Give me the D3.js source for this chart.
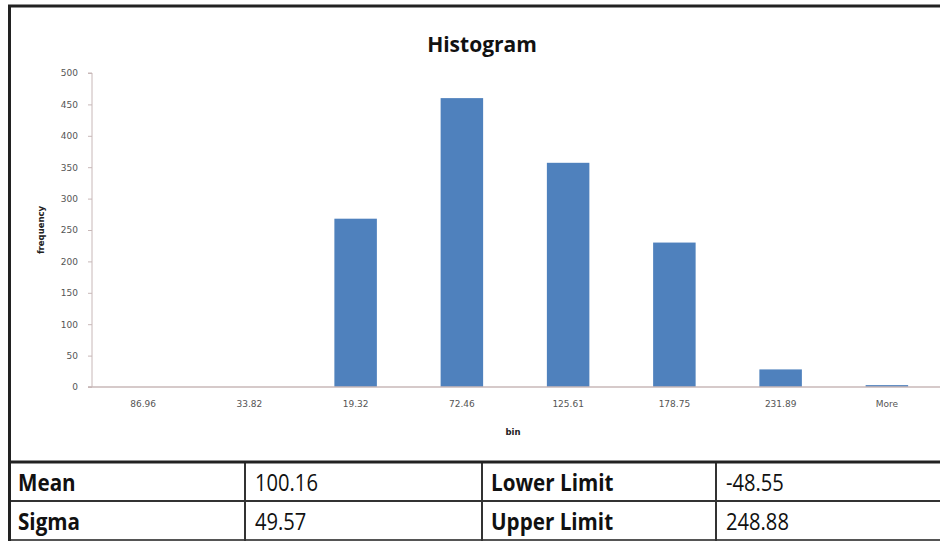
<!DOCTYPE html>
<html><head><meta charset="utf-8">
<script src="https://cdn.jsdelivr.net/npm/d3@7"></script>
<style>body{margin:0;background:#fff}svg{display:block}</style>
</head><body>
<script>
const categories = ["86.96","33.82","19.32","72.46","125.61","178.75","231.89","More"];
const frequency = [0,0,268,460,357,230,28,3];
const yTicks = [0,50,100,150,200,250,300,350,400,450,500];
const tableRows = [["Mean","100.16","Lower Limit","-48.55"],["Sigma","49.57","Upper Limit","248.88"]];

const W=940,H=542;
const svg=d3.select("body").append("svg").attr("width",W).attr("height",H);
svg.append("rect").attr("width",W).attr("height",H).attr("fill","#fff");

const x=d3.scaleBand().domain(categories).range([90,940]).paddingInner(0.6).paddingOuter(0.3);
const y=d3.scaleLinear().domain([0,500]).range([387,73]);

// bars
svg.selectAll("rect.bar").data(frequency).join("rect").attr("class","bar")
 .attr("x",(d,i)=>x(categories[i])).attr("width",x.bandwidth())
 .attr("y",d=>y(d)).attr("height",d=>y(0)-y(d)).attr("fill","#4F81BD");

// y axis
const ya=svg.append("g").attr("transform","translate(92,0)").call(d3.axisLeft(y).tickValues(yTicks).tickSize(4).tickPadding(10));
ya.selectAll("path,line").attr("stroke","#c8b8b8");
ya.selectAll("text").attr("fill","#555").style("font-family","DejaVu Sans").style("font-size","9px");
ya.select(".domain").attr("d","M-4,73H0V387H-4");

// x axis
const xa=svg.append("g").attr("transform","translate(0,387)").call(d3.axisBottom(x).tickSize(0).tickPadding(14));
xa.selectAll("path").attr("stroke","#c8b8b8").attr("stroke-width",1.5);
xa.select(".domain").attr("d","M88,0H940");
xa.selectAll("text").attr("fill","#555").style("font-family","DejaVu Sans").style("font-size","9px");

// titles
svg.append("text").attr("x",482).attr("y",52).attr("text-anchor","middle")
 .style("font-family","Open Sans").style("font-weight","bold").style("font-size","21px").attr("fill","#111").text("Histogram");
svg.append("text").attr("transform","translate(44,230) rotate(-90)").attr("text-anchor","middle")
 .style("font-family","DejaVu Sans").style("font-weight","bold").style("font-size","8.5px").attr("fill","#222").text("frequency");
svg.append("text").attr("x",513).attr("y",435).attr("text-anchor","middle")
 .style("font-family","DejaVu Sans").style("font-weight","bold").style("font-size","8.5px").attr("fill","#222").text("bin");

// table
const colX=[9,245,482,716,940];
const rowY=[462,501,540];
const tg=svg.append("g");
tableRows.forEach((r,ri)=>{
  r.forEach((c,ci)=>{
    const bold=ci%2===0;
    tg.append("text")
     .attr("transform",`translate(${colX[ci]+(bold?9:10)},${(rowY[ri]+rowY[ri+1])/2+9}) scale(${bold?0.86:0.84},1)`)
     .style("font-family","Open Sans").style("font-size","24px")
     .style("font-weight",bold?"bold":"normal").attr("fill","#111").text(c);
  });
});
// grid lines
tg.append("line").attr("x1",9).attr("x2",940).attr("y1",501).attr("y2",501).attr("stroke","#333").attr("stroke-width",2);
tg.append("line").attr("x1",9).attr("x2",940).attr("y1",540).attr("y2",540).attr("stroke","#555").attr("stroke-width",2);
[245,482,716].forEach(xx=>tg.append("line").attr("x1",xx).attr("x2",xx).attr("y1",462).attr("y2",541).attr("stroke","#333").attr("stroke-width",2));
// frame
tg.append("line").attr("x1",9).attr("x2",940).attr("y1",462).attr("y2",462).attr("stroke","#222").attr("stroke-width",3);
tg.append("line").attr("x1",8).attr("x2",940).attr("y1",6).attr("y2",6).attr("stroke","#222").attr("stroke-width",3);
tg.append("line").attr("x1",9.5).attr("x2",9.5).attr("y1",5).attr("y2",541).attr("stroke","#222").attr("stroke-width",3);
</script>
</body></html>
